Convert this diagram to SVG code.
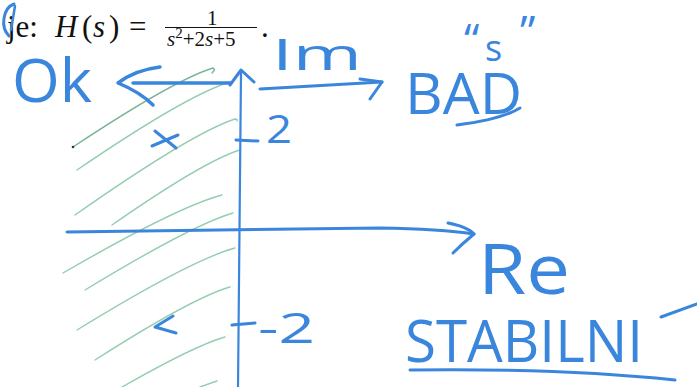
<svg xmlns="http://www.w3.org/2000/svg" width="697" height="387" viewBox="0 0 697 387">
<style>
.ink{fill:none;stroke:#3a86dc;stroke-linecap:round;stroke-linejoin:round}
.hatch{fill:none;stroke:#94cdb0;stroke-width:1.4;stroke-linecap:round}
.hw{font-family:"Open Sans","Inter","Liberation Sans",sans-serif;font-weight:380;fill:#3a86dc}
.tex{font-family:"Liberation Serif","Times New Roman",serif;fill:#111}
</style>
<rect width="697" height="387" fill="#fff"/>
<g id="hatching">
<path class="hatch" style="stroke:#78b596" d="M73,147 Q174,80 213,68 Q216,69 212,73"/>
<path class="hatch" d="M77,170 Q187,95 230,82"/>
<path class="hatch" d="M75,215 Q192,133 235,119 Q238,119 237,121"/>
<path class="hatch" d="M112,225 Q204,161 240,150"/>
<path class="hatch" d="M63,273 Q177,207 222,195"/>
<path class="hatch" d="M85,290 Q192,225 233,213"/>
<path class="hatch" d="M77,330 Q191,260 235,248"/>
<path class="hatch" d="M95,360 Q192,298 230,287"/>
<path class="hatch" d="M122,387 Q196,345 225,337"/>
<path class="hatch" d="M200,387 L217,381"/>
<circle cx="73" cy="147" r="1.3" fill="#333"/>
</g>
<g id="formula">
<text class="tex" x="7" y="37" font-size="31">je:</text>
<text class="tex" x="55" y="37" font-size="31"><tspan font-style="italic">H</tspan><tspan x="82">(</tspan><tspan x="93" font-style="italic">s</tspan><tspan x="109">)</tspan></text>
<text class="tex" x="129" y="37" font-size="31">=</text>
<text class="tex" x="207" y="25" font-size="21">1</text>
<line x1="165" y1="27.5" x2="257" y2="27.5" stroke="#111" stroke-width="1.2"/>
<text class="tex" x="167" y="46" font-size="21"><tspan font-style="italic">s</tspan><tspan font-size="15" dy="-8">2</tspan><tspan dy="8">+2</tspan><tspan font-style="italic">s</tspan><tspan>+5</tspan></text>
<text class="tex" x="261" y="37" font-size="31">.</text>
</g>
<g id="check">
<path class="ink" stroke-width="3" d="M14,4 C3,8 0,27 9,36"/>
<path class="ink" stroke-width="2.5" d="M15,6 L11,30"/>
</g>
<g id="connectors">
<path class="ink" stroke-width="2.2" d="M241,72 Q239,230 238,387"/>
<path class="ink" stroke-width="3" d="M230,85 L241,70 L254,82"/>
<path class="ink" stroke-width="3.5" d="M133,83 L230,83"/>
<path class="ink" stroke-width="3.5" d="M160,67 Q135,70 118,83 Q140,92 153,105"/>
<path class="ink" stroke-width="3" d="M260,89 L382,82"/>
<path class="ink" stroke-width="3" d="M360,79 L382,82 L370,99"/>
<path class="ink" stroke-width="3" d="M67,232 Q300,229 380,228 Q440,229 474,234"/>
<path class="ink" stroke-width="3" d="M448,223 Q468,227 474,234 Q462,244 453,253"/>
</g>
<g id="ticks">
<path class="ink" stroke-width="3" d="M236,140 L258,141"/>
<path class="ink" stroke-width="3" d="M232,325 L255,323"/>
</g>
<g id="poles">
<path class="ink" stroke-width="3" d="M155,131 L176,148 M152,146 L178,135"/>
<path class="ink" stroke-width="3" d="M173,316 L155,327 L176,333"/>
</g>
<g id="labels">
<text class="hw" x="12" y="102" font-size="60" textLength="80" lengthAdjust="spacingAndGlyphs">Ok</text>
<text class="hw" x="272" y="70" font-size="44" textLength="90" lengthAdjust="spacingAndGlyphs">Im</text>
<text class="hw" font-size="44"><tspan x="464" y="55">“</tspan><tspan x="485" y="61" font-size="36">s</tspan><tspan x="520" y="47">”</tspan></text>
<text class="hw" x="405" y="114" font-size="56" textLength="117" lengthAdjust="spacingAndGlyphs">BAD</text>
<path class="ink" stroke-width="3" d="M457,125 Q500,120 520,108"/>
<text class="hw" x="266" y="143" font-size="38" textLength="26" lengthAdjust="spacingAndGlyphs">2</text>
<text class="hw" x="258" y="343" font-size="42" textLength="57" lengthAdjust="spacingAndGlyphs">-2</text>
<text class="hw" x="478" y="294" font-size="70" textLength="92" lengthAdjust="spacingAndGlyphs">Re</text>
<text class="hw" x="405" y="362" font-size="58" textLength="238" lengthAdjust="spacingAndGlyphs">STABILNI</text>
<path class="ink" stroke-width="3" d="M410,370 Q560,368 675,380"/>
<path class="ink" stroke-width="3" d="M661,317 L697,304"/>
</g>
</svg>
